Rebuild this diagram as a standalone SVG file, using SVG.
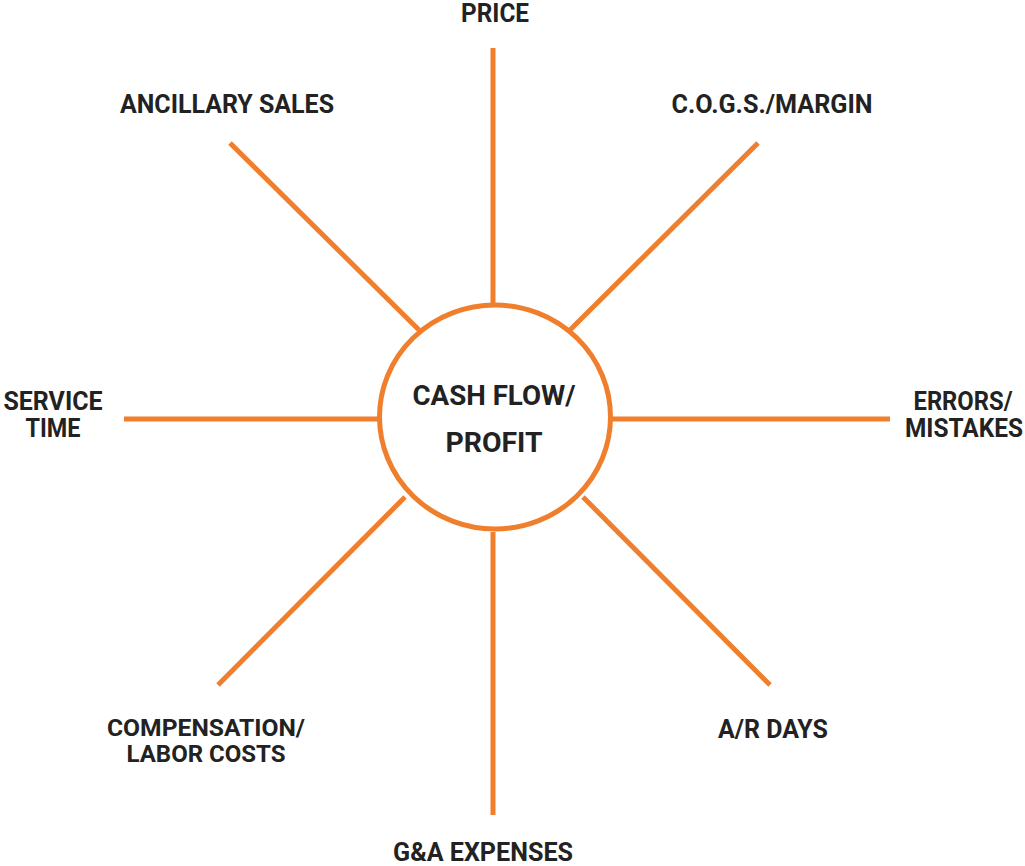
<svg xmlns="http://www.w3.org/2000/svg" width="1025" height="866" viewBox="0 0 1025 866">
<style>
.ln{stroke:#F07F2D;stroke-width:5;fill:none;stroke-linecap:butt}
.t{font-family:Roboto,"Liberation Sans",sans-serif;font-weight:700;font-size:25px;fill:#222222;text-anchor:middle}
.c{font-size:28px}
.s{font-size:24px}
</style>
<rect width="1025" height="866" fill="#ffffff"/>
<g id="connectors">
<line class="ln" x1="493" y1="48" x2="493" y2="303"/>
<line class="ln" x1="493" y1="532" x2="493" y2="815"/>
<line class="ln" x1="124" y1="419" x2="378" y2="419"/>
<line class="ln" x1="612" y1="419" x2="890" y2="419"/>
<line class="ln" x1="230" y1="143" x2="419" y2="330"/>
<line class="ln" x1="758" y1="143" x2="570" y2="330"/>
<line class="ln" x1="218" y1="685" x2="405" y2="497"/>
<line class="ln" x1="770" y1="685" x2="583" y2="497"/>
</g>
<g id="center">
<ellipse class="ln" cx="495" cy="417" rx="115.5" ry="112" fill="#ffffff"/>
<text class="t c" x="494" y="405" textLength="163" lengthAdjust="spacingAndGlyphs">CASH FLOW/</text>
<text class="t c" x="494" y="452" textLength="97" lengthAdjust="spacingAndGlyphs">PROFIT</text>
</g>
<g id="price"><text class="t" x="495" y="22" textLength="68" lengthAdjust="spacingAndGlyphs">PRICE</text></g>
<g id="ancillary"><text class="t" x="227" y="113" textLength="214" lengthAdjust="spacingAndGlyphs">ANCILLARY SALES</text></g>
<g id="cogs"><text class="t" x="772" y="113" textLength="201" lengthAdjust="spacingAndGlyphs">C.O.G.S./MARGIN</text></g>
<g id="service"><text class="t" x="53" y="410" textLength="99" lengthAdjust="spacingAndGlyphs">SERVICE</text><text class="t" x="53" y="437" textLength="55" lengthAdjust="spacingAndGlyphs">TIME</text></g>
<g id="errors"><text class="t" x="963" y="410" textLength="99" lengthAdjust="spacingAndGlyphs">ERRORS/</text><text class="t" x="964" y="437" textLength="118" lengthAdjust="spacingAndGlyphs">MISTAKES</text></g>
<g id="compensation"><text class="t s" x="206" y="736" textLength="198" lengthAdjust="spacingAndGlyphs">COMPENSATION/</text><text class="t s" x="206" y="762" textLength="159" lengthAdjust="spacingAndGlyphs">LABOR COSTS</text></g>
<g id="ar"><text class="t" x="773" y="738" textLength="110" lengthAdjust="spacingAndGlyphs">A/R DAYS</text></g>
<g id="ga"><text class="t" x="483" y="861" textLength="180" lengthAdjust="spacingAndGlyphs">G&amp;A EXPENSES</text></g>
</svg>
